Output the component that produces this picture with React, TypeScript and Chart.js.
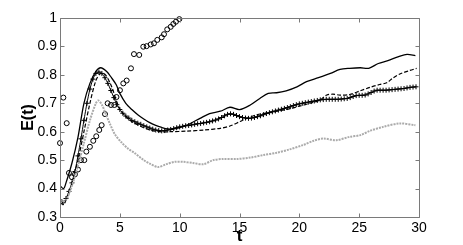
import React, { useEffect, useRef } from 'react';
import { Chart, registerables } from 'chart.js';

Chart.register(...registerables);

const xTickValues = [0, 5, 10, 15, 20, 25, 30];
const yTickValues = [0.3, 0.4, 0.5, 0.6, 0.7, 0.8, 0.9, 1];

const solidT = [0, 0.3, 0.5, 1, 1.5, 2, 2.5, 3, 3.4, 3.9, 4.3, 4.7, 5.0, 5.5, 6.0, 6.5, 7.0, 7.5, 8.0, 8.5, 9.0, 9.5, 10.0, 10.6, 11.7, 12.5, 13.4, 14.2, 15.0, 15.9, 16.7, 17.4, 18.1, 18.9, 19.8, 20.6, 21.6, 22.6, 23.4, 24.2, 25.1, 25.8, 26.6, 27.4, 28.3, 29.0, 29.7];
const solidE = [0.41, 0.4, 0.42, 0.49, 0.58, 0.7, 0.77, 0.812, 0.825, 0.812, 0.79, 0.765, 0.735, 0.7, 0.678, 0.66, 0.645, 0.632, 0.622, 0.615, 0.61, 0.61, 0.614, 0.623, 0.647, 0.664, 0.672, 0.686, 0.678, 0.694, 0.717, 0.735, 0.737, 0.744, 0.758, 0.776, 0.79, 0.805, 0.819, 0.823, 0.825, 0.823, 0.84, 0.85, 0.864, 0.872, 0.868];

const dashedT = [0, 0.3, 0.6, 1.0, 1.5, 2.0, 2.5, 3.0, 3.4, 3.8, 4.3, 5.0, 5.85, 6.7, 7.5, 8.35, 9.2, 10.6, 12.0, 13.4, 14.2, 15.0, 15.6, 16.5, 17.5, 18.5, 19.3, 20.0, 20.9, 21.7, 22.3, 22.8, 23.4, 24.2, 25.1, 25.9, 26.7, 27.3, 27.8, 28.4, 29.2, 29.8];
const dashedE = [0.35, 0.345, 0.37, 0.42, 0.5, 0.6, 0.7, 0.78, 0.805, 0.8, 0.76, 0.68, 0.64, 0.62, 0.606, 0.6, 0.6, 0.602, 0.606, 0.612, 0.62, 0.635, 0.647, 0.66, 0.668, 0.675, 0.682, 0.69, 0.7, 0.711, 0.729, 0.732, 0.729, 0.731, 0.744, 0.756, 0.766, 0.772, 0.788, 0.803, 0.815, 0.823];

const plusT = [0, 0.25, 0.5, 0.75, 1, 1.25, 1.5, 1.75, 2, 2.25, 2.5, 2.75, 3, 3.25, 3.5, 3.75, 4, 4.25, 4.5, 4.75, 5, 5.25, 5.5, 5.75, 6, 6.25, 6.5, 6.75, 7, 7.25, 7.5, 7.75, 8, 8.25, 8.5, 8.75, 9, 9.25, 9.5, 9.75, 10, 10.25, 10.5, 10.75, 11, 11.25, 11.5, 11.75, 12, 12.25, 12.5, 12.75, 13, 13.25, 13.5, 13.75, 14, 14.25, 14.5, 14.75, 15, 15.25, 15.5, 15.75, 16, 16.25, 16.5, 16.75, 17, 17.25, 17.5, 17.75, 18, 18.25, 18.5, 18.75, 19, 19.25, 19.5, 19.75, 20, 20.25, 20.5, 20.75, 21, 21.25, 21.5, 21.75, 22, 22.25, 22.5, 22.75, 23, 23.25, 23.5, 23.75, 24, 24.25, 24.5, 24.75, 25, 25.25, 25.5, 25.75, 26, 26.25, 26.5, 26.75, 27, 27.25, 27.5, 27.75, 28, 28.25, 28.5, 28.75, 29, 29.25, 29.5, 29.75];
const plusE = [0.36, 0.35, 0.365, 0.39, 0.42, 0.46, 0.515, 0.575, 0.64, 0.7, 0.75, 0.785, 0.805, 0.81, 0.805, 0.79, 0.77, 0.745, 0.72, 0.695, 0.678, 0.665, 0.655, 0.648, 0.64, 0.635, 0.63, 0.626, 0.621, 0.617, 0.613, 0.609, 0.606, 0.604, 0.603, 0.604, 0.606, 0.608, 0.611, 0.614, 0.617, 0.619, 0.621, 0.622, 0.624, 0.626, 0.628, 0.629, 0.631, 0.633, 0.635, 0.638, 0.641, 0.645, 0.65, 0.656, 0.661, 0.663, 0.661, 0.657, 0.653, 0.65, 0.648, 0.647, 0.648, 0.65, 0.653, 0.656, 0.66, 0.664, 0.667, 0.67, 0.673, 0.676, 0.679, 0.682, 0.685, 0.688, 0.692, 0.695, 0.698, 0.7, 0.702, 0.704, 0.706, 0.708, 0.71, 0.712, 0.713, 0.714, 0.714, 0.714, 0.714, 0.714, 0.715, 0.716, 0.717, 0.72, 0.724, 0.727, 0.728, 0.728, 0.729, 0.733, 0.738, 0.743, 0.746, 0.746, 0.746, 0.746, 0.747, 0.748, 0.749, 0.75, 0.751, 0.752, 0.754, 0.756, 0.757, 0.758];

const grayT = [0, 0.5, 1.0, 1.5, 2.0, 2.5, 3.0, 3.2, 3.5, 3.8, 4.2, 4.6, 5.15, 5.7, 6.27, 7.0, 7.5, 8.2, 8.9, 9.6, 10.3, 11.1, 12.0, 12.8, 13.6, 14.8, 15.9, 17.0, 18.1, 19.2, 20.3, 21.2, 22.0, 23.1, 24.2, 25.1, 25.9, 27.0, 28.4, 29.7];
const grayE = [0.35, 0.36, 0.41, 0.48, 0.56, 0.64, 0.7, 0.71, 0.695, 0.665, 0.625, 0.59, 0.562, 0.54, 0.524, 0.5, 0.488, 0.476, 0.486, 0.494, 0.494, 0.49, 0.486, 0.5, 0.504, 0.504, 0.509, 0.518, 0.526, 0.538, 0.553, 0.568, 0.576, 0.57, 0.582, 0.588, 0.603, 0.617, 0.629, 0.623];

const circleT = [0, 0.28, 0.56, 0.75, 1.0, 1.25, 1.5, 1.75, 2.03, 2.2, 2.5, 2.78, 3.03, 3.28, 3.48, 3.76, 3.98, 4.26, 4.54, 4.72, 5.01, 5.29, 5.57, 5.93, 6.18, 6.62, 6.96, 7.24, 7.58, 7.85, 8.13, 8.5, 8.69, 8.96, 9.25, 9.47, 9.69, 9.97];
const circleE = [0.56, 0.72, 0.63, 0.455, 0.44, 0.45, 0.467, 0.5, 0.5, 0.53, 0.547, 0.568, 0.584, 0.606, 0.623, 0.662, 0.7, 0.694, 0.694, 0.722, 0.746, 0.77, 0.78, 0.823, 0.873, 0.87, 0.899, 0.901, 0.907, 0.911, 0.923, 0.932, 0.943, 0.96, 0.969, 0.979, 0.987, 0.996];

const pts = (t: number[], e: number[]) => t.map((x, i) => ({ x, y: e[i] }));

const FONT = "'Liberation Sans', Arial, Helvetica, sans-serif";

const boxTicks = {
  id: 'boxTicks',
  afterDatasetsDraw(chart: any) {
    const { ctx, chartArea: a, scales } = chart;
    const L = Math.round(a.left) + 0.5;
    const R = Math.round(a.right) + 0.5;
    const T = Math.round(a.top) + 0.5;
    const B = Math.round(a.bottom) + 0.5;
    const len = 4;
    ctx.save();
    ctx.strokeStyle = '#7a7a7a';
    ctx.lineWidth = 1;
    ctx.beginPath();
    ctx.moveTo(L, T);
    ctx.lineTo(R, T);
    ctx.lineTo(R, B);
    ctx.lineTo(L, B);
    ctx.closePath();
    xTickValues.forEach((v) => {
      const px = Math.round(scales.x.getPixelForValue(v)) + 0.5;
      ctx.moveTo(px, B);
      ctx.lineTo(px, B - len);
      ctx.moveTo(px, T);
      ctx.lineTo(px, T + len);
    });
    yTickValues.forEach((v) => {
      const py = Math.round(scales.y.getPixelForValue(v)) + 0.5;
      ctx.moveTo(L, py);
      ctx.lineTo(L + len, py);
      ctx.moveTo(R, py);
      ctx.lineTo(R - len, py);
    });
    ctx.stroke();
    ctx.restore();
  },
};

export default function App() {
  const ref = useRef<HTMLCanvasElement>(null);
  useEffect(() => {
    if (!ref.current) return;
    const chart = new Chart(ref.current, {
      type: 'scatter',
      data: {
        datasets: [
          {
            label: 'gray',
            data: pts(grayT, grayE),
            showLine: true,
            borderColor: '#ababab',
            borderWidth: 2,
            borderDash: [2, 1],
            pointRadius: 0,
            tension: 0.3,
          },
          {
            label: 'dashed',
            data: pts(dashedT, dashedE),
            showLine: true,
            borderColor: '#000000',
            borderWidth: 1.2,
            borderDash: [4, 2],
            pointRadius: 0,
            tension: 0.3,
          },
          {
            label: 'plus',
            data: pts(plusT, plusE),
            showLine: true,
            borderColor: '#000000',
            borderWidth: 1,
            pointStyle: 'cross',
            pointRadius: 2.5,
            pointBorderColor: '#000000',
            pointBorderWidth: 1,
            tension: 0.2,
          },
          {
            label: 'solid',
            data: pts(solidT, solidE),
            showLine: true,
            borderColor: '#000000',
            borderWidth: 1.3,
            pointRadius: 0,
            tension: 0.3,
          },
          {
            label: 'circles',
            data: pts(circleT, circleE),
            showLine: false,
            clip: false,
            pointStyle: 'circle',
            pointRadius: 2.5,
            pointBorderColor: '#000000',
            pointBackgroundColor: 'rgba(0,0,0,0)',
            pointBorderWidth: 1,
          },
        ],
      },
      options: {
        animation: false,
        responsive: false,
        maintainAspectRatio: false,
        layout: { padding: { top: 18, right: 44, left: 0, bottom: 0 } },
        plugins: {
          legend: { display: false },
          tooltip: { enabled: false },
        },
        scales: {
          x: {
            type: 'linear',
            min: 0,
            max: 30,
            afterFit: (s: any) => { s.height = 28; },
            afterBuildTicks: (s: any) => { s.ticks = xTickValues.map((v) => ({ value: v })); },
            grid: { display: false, drawTicks: false },
            border: { display: false },
            ticks: {
              padding: 3,
              color: '#000',
              font: { family: FONT, size: 14 },
              callback: (v: any) => String(v),
            },
            title: {
              display: true,
              text: 't',
              color: '#000',
              font: { family: FONT, size: 17, weight: 'bold', lineHeight: 1 },
              padding: { top: 0, bottom: 0 },
            },
          },
          y: {
            type: 'linear',
            min: 0.3,
            max: 1,
            afterFit: (s: any) => { s.width = 60; },
            afterBuildTicks: (s: any) => { s.ticks = yTickValues.map((v) => ({ value: v })); },
            grid: { display: false, drawTicks: false },
            border: { display: false },
            ticks: {
              padding: 3,
              color: '#000',
              font: { family: FONT, size: 14 },
              callback: (v: any) => {
                const n = Math.round(Number(v) * 10) / 10;
                return n === 1 ? '1' : n.toFixed(1);
              },
            },
            title: {
              display: true,
              text: 'E(t)',
              color: '#000',
              font: { family: FONT, size: 16, weight: 'bold', lineHeight: 1.2 },
              padding: { top: 19, bottom: 0 },
            },
          },
        },
      },
      plugins: [boxTicks],
    });
    return () => chart.destroy();
  }, []);
  return (
    <div style={{ position: 'fixed', left: 0, top: 0, width: 463, height: 245, background: '#fff' }}>
      <canvas ref={ref} width={463} height={245} style={{ width: 463, height: 245, display: 'block' }} />
    </div>
  );
}
